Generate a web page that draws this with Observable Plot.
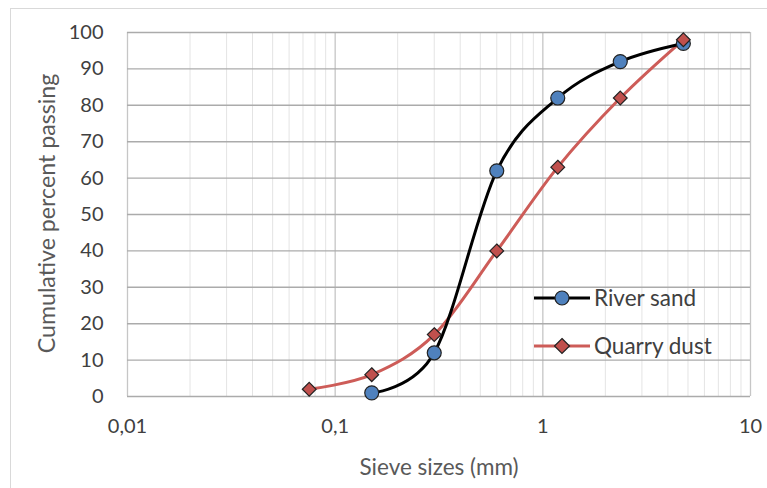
<!DOCTYPE html>
<html>
<head>
<meta charset="utf-8">
<script src="https://cdn.jsdelivr.net/npm/d3@7"></script>
<script src="https://cdn.jsdelivr.net/npm/@observablehq/plot@0.6"></script>
<style>
  html, body { margin: 0; padding: 0; background: #fff; }
  #wrap { position: relative; width: 767px; height: 488px; overflow: hidden; font-family: Lato, "Open Sans", sans-serif; }
  #frame { position: absolute; left: 10px; top: 8px; width: 800px; height: 520px; border-left: 1px solid #d9d9d9; border-top: 1px solid #d9d9d9; }
  #chart { position: absolute; left: 0; top: 0; }
  .leg { position: absolute; display: flex; align-items: center; font-size: 22.5px; color: #404040; line-height: 24px; }
  .leg svg { display: block; margin-right: 4px; }
</style>
</head>
<body>
<div id="wrap">
  <div id="frame"></div>
  <div id="chart"></div>
  <div id="legend"></div>
</div>
<script>
// Sieve sizes (mm)
const riverSizes = [0.15, 0.3, 0.6, 1.18, 2.36, 4.75];
const riverPassing = [1, 12, 62, 82, 92, 97];
const dustSizes = [0.075, 0.15, 0.3, 0.6, 1.18, 2.36, 4.75];
const dustPassing = [2, 6, 17, 40, 63, 82, 98];
const seriesNames = ["River sand", "Quarry dust"];
const xTicks = [0.01, 0.1, 1, 10];
const xTickLabels = ["0,01", "0,1", "1", "10"];
const yTicks = [0, 10, 20, 30, 40, 50, 60, 70, 80, 90, 100];
const minorMultipliers = [2, 3, 4, 5, 6, 7, 8, 9];
const xTitle = "Sieve sizes (mm)";
const yTitle = "Cumulative percent passing";

const minorTicks = [];
for (const d of [0.01, 0.1, 1]) for (const m of minorMultipliers) minorTicks.push(+(d * m).toPrecision(3));

const river = riverSizes.map((x, i) => ({x, y: riverPassing[i]}));
const dust = dustSizes.map((x, i) => ({x, y: dustPassing[i]}));

const blue = "#4f81bd", red = "#c0504d", redLine = "#cd5c58", edge = "#222";

const chart = Plot.plot({
  width: 767,
  height: 488,
  marginLeft: 127,
  marginRight: 17,
  marginTop: 32,
  marginBottom: 92,
  style: {fontFamily: "Lato, 'Open Sans', sans-serif", fontSize: "20px", color: "#404040", background: "transparent", overflow: "visible"},
  x: {type: "log", domain: [0.01, 10]},
  y: {domain: [0, 100]},
  marks: [
    Plot.ruleX(minorTicks, {stroke: "#e4e4e4", strokeWidth: 1}),
    Plot.ruleX(xTicks, {stroke: "#c6c6c6", strokeWidth: 1.3}),
    Plot.ruleY(yTicks, {stroke: "#ababab", strokeWidth: 1.4}),
    Plot.line(dust, {x: "x", y: "y", curve: "cardinal", stroke: redLine, strokeWidth: 3}),
    Plot.line(river, {x: "x", y: "y", curve: "cardinal", stroke: "#000", strokeWidth: 3}),
    Plot.dot(river, {x: "x", y: "y", r: 7, symbol: "circle", fill: blue, stroke: edge, strokeWidth: 1.2}),
    Plot.dot(dust, {x: "x", y: "y", r: 6.2, symbol: "diamond2", fill: red, stroke: edge, strokeWidth: 1.2}),
    Plot.axisX({ticks: xTicks, tickFormat: (d) => xTickLabels[xTicks.indexOf(d)], tickSize: 0, tickPadding: 22, label: null, fontSize: 20}),
    Plot.axisY({ticks: yTicks, tickSize: 0, tickPadding: 24, label: null, fontSize: 20}),
    Plot.text([xTitle], {frameAnchor: "bottom", dy: 71, fontSize: 22.5, fill: "#595959", lineAnchor: "middle", textAnchor: "middle"}),
    Plot.text([yTitle], {frameAnchor: "left", dx: -80, dy: -1, rotate: -90, fontSize: 23.2, fill: "#595959", lineAnchor: "middle", textAnchor: "middle"})
  ]
});
document.getElementById("chart").appendChild(chart);

// Legend
const legend = document.getElementById("legend");
const legendItems = [
  {name: seriesNames[0], line: "#000", fill: blue, sym: "circle", top: 286},
  {name: seriesNames[1], line: redLine, fill: red, sym: "diamond", top: 334}
];
for (const it of legendItems) {
  const div = document.createElement("div");
  div.className = "leg";
  div.style.left = "534px";
  div.style.top = it.top + "px";
  const marker = it.sym === "circle"
    ? `<circle cx="28" cy="12" r="7" fill="${it.fill}" stroke="${edge}" stroke-width="1.2"/>`
    : `<path d="M28,4.5L35.5,12L28,19.5L20.5,12Z" fill="${it.fill}" stroke="${edge}" stroke-width="1.2"/>`;
  div.innerHTML = `<svg width="56" height="24"><line x1="0" x2="56" y1="12" y2="12" stroke="${it.line}" stroke-width="3"/>${marker}</svg><span>${it.name}</span>`;
  legend.appendChild(div);
}
</script>
</body>
</html>
